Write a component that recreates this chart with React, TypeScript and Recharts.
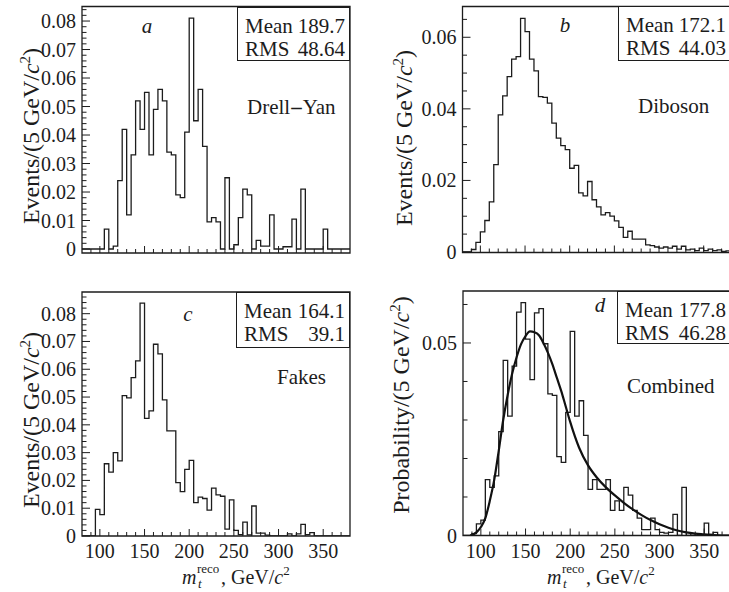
import React from 'react';
import { LineChart, Line, XAxis, YAxis, ReferenceArea } from 'recharts';

const FONT = '"Liberation Serif", "Times New Roman", Times, serif';
const INK = '#1c1c1c';

// low edges of the 5 GeV bins
const binLow = [
  80, 85, 90, 95, 100, 105, 110, 115, 120, 125,
  130, 135, 140, 145, 150, 155, 160, 165, 170, 175,
  180, 185, 190, 195, 200, 205, 210, 215, 220, 225,
  230, 235, 240, 245, 250, 255, 260, 265, 270, 275,
  280, 285, 290, 295, 300, 305, 310, 315, 320, 325,
  330, 335, 340, 345, 350, 355, 360, 365, 370, 375,
];
const xMax = 380;
const xTicks = [
  90, 100, 110, 120, 130, 140, 150, 160, 170, 180, 190, 200, 210, 220,
  230, 240, 250, 260, 270, 280, 290, 300, 310, 320, 330, 340, 350, 360, 370,
];
const xLabelTicks = [100, 150, 200, 250, 300, 350];

const drellYan = [
  0, 0, 0, 0, 0, 0.007, 0, 0.001, 0.024, 0.042,
  0.012, 0.033, 0.052, 0.042, 0.055, 0.033, 0.049, 0.056, 0.052, 0.034,
  0.033, 0.019, 0.018, 0.041, 0.081, 0.045, 0.056, 0.036, 0.0095, 0.011,
  0.0095, 0, 0.025, 0, 0.0015, 0.011, 0.021, 0.019, 0, 0.003,
  0.001, 0.001, 0.012, 0, 0, 0.0008, 0.0008, 0.0105, 0, 0.021,
  0, 0, 0, 0, 0.007, 0, 0, 0, 0, 0,
];

const diboson = [
  0, 0, 0.0007, 0.0027, 0.0056, 0.0088, 0.014, 0.0244, 0.0383, 0.0436,
  0.049, 0.0539, 0.0546, 0.0653, 0.0616, 0.0539, 0.0506, 0.0434, 0.0432, 0.0416,
  0.036, 0.0318, 0.0297, 0.0286, 0.0234, 0.0242, 0.0165, 0.0157, 0.0197, 0.0146,
  0.0126, 0.0104, 0.011, 0.01, 0.0087, 0.0069, 0.0041, 0.0058, 0.0036, 0.0036,
  0.0036, 0.002, 0.0018, 0.0014, 0.0011, 0.0014, 0.0011, 0.0016, 0.0008, 0.0016,
  0.0006, 0.0008, 0.0004, 0.0011, 0.0004, 0.0008, 0.0004, 0.0006, 0.0002, 0.0003,
];

const fakes = [
  0, 0, 0, 0.0096, 0.0077, 0.026, 0.023, 0.03, 0.027, 0.0505,
  0.0497, 0.057, 0.063, 0.0838, 0.0423, 0.045, 0.069, 0.0655, 0.049, 0.0378,
  0.0378, 0.0192, 0.016, 0.024, 0.0272, 0.012, 0.014, 0.0135, 0.0093, 0.0172,
  0.0148, 0.0143, 0.0025, 0.013, 0.002, 0.0005, 0.005, 0.0004, 0.0108, 0.001,
  0.001, 0.0003, 0, 0, 0, 0, 0.0008, 0, 0.0008, 0.0042,
  0.0005, 0.0012, 0, 0, 0, 0, 0, 0, 0, 0,
];

const combined = [
  0, 0, 0.0005, 0.003, 0.004, 0.0145, 0.0125, 0.0155, 0.027, 0.0455,
  0.031, 0.044, 0.058, 0.0605, 0.051, 0.0405, 0.0578, 0.0589, 0.0498, 0.0368,
  0.0364, 0.0205, 0.019, 0.032, 0.053, 0.031, 0.035, 0.026, 0.012, 0.0145,
  0.012, 0.012, 0.0145, 0.0065, 0.009, 0.0065, 0.0125, 0.0105, 0.0065, 0.0045,
  0.0015, 0.0015, 0.0045, 0.0015, 0.0008, 0.0006, 0.0008, 0.0055, 0, 0.0125,
  0, 0.0005, 0, 0, 0.0032, 0.0003, 0.0008, 0, 0, 0,
];

// fitted curve on panel d
const fitX = [
  88, 95, 100, 105, 110, 115, 120, 125, 130, 135, 140, 145, 150, 155, 160, 165,
  170, 175, 180, 185, 190, 195, 200, 210, 220, 230, 240, 250, 260, 270, 280,
  290, 300, 310, 320, 330, 340, 350, 360, 370, 380,
];
const fitY = [
  0, 0.0008, 0.0022, 0.0045, 0.009, 0.0145, 0.022, 0.03, 0.0365, 0.042, 0.0463,
  0.0497, 0.0518, 0.053, 0.0528, 0.052, 0.05, 0.0475, 0.0445, 0.041, 0.0375,
  0.0335, 0.0295, 0.0228, 0.0182, 0.015, 0.0125, 0.0104, 0.0085, 0.0068,
  0.0053, 0.004, 0.0029, 0.002, 0.0013, 0.0008, 0.0005, 0.0003, 0.0001, 0, 0,
];

const panelNames = ['Drell', 'Diboson', 'Fakes', 'Combined'];
const panelLetters = ['a', 'b', 'c', 'd'];
const means = ['189.7', '172.1', '164.1', '177.8'];
const rmsValues = ['48.64', '44.03', '39.1', '46.28'];

const yMajorFine = [0, 0.01, 0.02, 0.03, 0.04, 0.05, 0.06, 0.07, 0.08];
const yMajorB = [0, 0.02, 0.04, 0.06];
const yMajorD = [0, 0.05];

const stepTicks = (step: number, max: number) => {
  const out: number[] = [];
  for (let v = 0; v <= max + 1e-9; v += step) out.push(Math.round(v * 10000) / 10000);
  return out;
};

const toSteps = (vals: number[]) => [
  ...binLow.map((x, i) => ({ x, y: vals[i] })),
  { x: xMax, y: vals[vals.length - 1] },
];
const fitData = fitX.map((x, i) => ({ x, y: fitY[i] }));

const XTick = (props: any) => {
  const { x, y, payload, showLabel } = props;
  const major = xLabelTicks.includes(payload.value);
  return (
    <g>
      <line x1={x} x2={x} y1={y} y2={y - (major ? 7 : 4)} stroke={INK} strokeWidth={1} />
      {showLabel && major && (
        <text x={x} y={y + 22} textAnchor="middle" fontSize={20} fontFamily={FONT} fill={INK}>
          {payload.value}
        </text>
      )}
    </g>
  );
};

const YTick = (props: any) => {
  const { x, y, payload, majors } = props;
  const v = payload.value as number;
  const major = majors.some((m: number) => Math.abs(m - v) < 1e-7);
  return (
    <g>
      <line x1={x} x2={x + (major ? 8 : 4.5)} y1={y} y2={y} stroke={INK} strokeWidth={1} />
      {major && (
        <text x={x - 6} y={y + 7} textAnchor="end" fontSize={20} fontFamily={FONT} fill={INK}>
          {v === 0 ? '0' : v.toFixed(2)}
        </text>
      )}
    </g>
  );
};

interface PanelProps {
  left: number;
  top: number;
  width: number;
  height: number;
  margin: { top: number; right: number; bottom: number; left: number };
  yAxisWidth: number;
  xAxisHeight: number;
  yDomain: [number, number];
  yTicks: number[];
  yMajors: number[];
  hist: number[];
  showXLabels: boolean;
  withFit?: boolean;
}

const Panel: React.FC<PanelProps> = (p) => (
  <div style={{ position: 'absolute', left: p.left, top: p.top }}>
    <LineChart width={p.width} height={p.height} margin={p.margin}>
      <XAxis
        dataKey="x"
        type="number"
        domain={[80, xMax]}
        allowDataOverflow
        ticks={xTicks}
        interval={0}
        height={p.xAxisHeight}
        tickSize={0}
        tickMargin={0}
        axisLine={false}
        tickLine={false}
        tick={(tp: any) => <XTick {...tp} showLabel={p.showXLabels} />}
      />
      <YAxis
        type="number"
        domain={p.yDomain}
        allowDataOverflow
        ticks={p.yTicks}
        interval={0}
        width={p.yAxisWidth}
        tickSize={0}
        tickMargin={0}
        axisLine={false}
        tickLine={false}
        tick={(tp: any) => <YTick {...tp} majors={p.yMajors} />}
      />
      <Line
        data={toSteps(p.hist)}
        dataKey="y"
        type="stepAfter"
        stroke={INK}
        strokeWidth={1.3}
        dot={false}
        activeDot={false}
        isAnimationActive={false}
      />
      {p.withFit && (
        <Line
          data={fitData}
          dataKey="y"
          type="monotone"
          stroke="#111"
          strokeWidth={2.2}
          dot={false}
          activeDot={false}
          isAnimationActive={false}
        />
      )}
      <ReferenceArea
        x1={80}
        x2={xMax}
        y1={p.yDomain[0]}
        y2={p.yDomain[1]}
        fill="none"
        fillOpacity={0}
        stroke={INK}
        strokeWidth={1.3}
        ifOverflow="visible"
      />
    </LineChart>
  </div>
);

const StatsBox = ({ left, top, width, height, mean, rms }: any) => (
  <div
    style={{
      position: 'absolute',
      left,
      top,
      width,
      height,
      boxSizing: 'border-box',
      border: `1.3px solid ${INK}`,
      background: '#fff',
      fontSize: 21,
      color: INK,
    }}
  >
    {[
      ['Mean', mean, 18],
      ['RMS', rms, 41],
    ].map(([k, v, cy]) => (
      <div
        key={k as string}
        style={{
          position: 'absolute',
          left: 7,
          right: 4,
          top: (cy as number) - 12,
          height: 24,
          lineHeight: '24px',
          display: 'flex',
          justifyContent: 'space-between',
        }}
      >
        <span>{k}</span>
        <span>{v}</span>
      </div>
    ))}
  </div>
);

const Label = ({ x, y, children, italic, anchor }: any) => (
  <div
    style={{
      position: 'absolute',
      left: x,
      top: y,
      transform: anchor === 'middle' ? 'translate(-50%, -50%)' : 'translate(0, -50%)',
      fontSize: 21,
      fontStyle: italic ? 'italic' : 'normal',
      whiteSpace: 'nowrap',
      color: INK,
    }}
  >
    {children}
  </div>
);

const YTitle = ({ x, y, word }: any) => (
  <div
    style={{
      position: 'absolute',
      left: x,
      top: y,
      transform: 'translate(-50%, -50%) rotate(-90deg)',
      fontSize: 24,
      whiteSpace: 'nowrap',
      color: INK,
    }}
  >
    {word}/(5 GeV/<i>c</i>
    <sup style={{ fontSize: 15 }}>2</sup>)
  </div>
);

// m_t^reco, GeV/c^2 drawn as svg text so sub/superscripts sit exactly
const XTitle = ({ x }: any) => (
  <svg
    width={130}
    height={36}
    style={{ position: 'absolute', left: x, top: 559, overflow: 'visible' }}
    fontFamily={FONT}
    fill={INK}
  >
    <text x={0} y={25} fontSize={20} fontStyle="italic">m</text>
    <text x={15} y={14} fontSize={13}>reco</text>
    <text x={16} y={29} fontSize={13} fontStyle="italic">t</text>
    <text x={39} y={25} fontSize={20}>
      , GeV/<tspan fontStyle="italic">c</tspan>
      <tspan fontSize={13} dy={-9}>2</tspan>
    </text>
  </svg>
);

export default function App() {
  return (
    <div
      style={{
        position: 'absolute',
        left: 0,
        top: 0,
        width: 729,
        height: 592,
        overflow: 'hidden',
        background: '#fff',
        fontFamily: FONT,
      }}
    >
      <Panel
        left={0}
        top={0}
        width={365}
        height={280}
        margin={{ top: 6.5, right: 15, bottom: 7, left: 32 }}
        yAxisWidth={50}
        xAxisHeight={20}
        yDomain={[-0.0014, 0.0851]}
        yTicks={stepTicks(0.002, 0.084)}
        yMajors={yMajorFine}
        hist={drellYan}
        showXLabels={false}
      />
      <Panel
        left={365}
        top={0}
        width={366}
        height={280}
        margin={{ top: 6.5, right: 0.5, bottom: 7.5, left: 47.5 }}
        yAxisWidth={50}
        xAxisHeight={20}
        yDomain={[-0.00014, 0.0686]}
        yTicks={stepTicks(0.005, 0.065)}
        yMajors={yMajorB}
        hist={diboson}
        showXLabels={false}
      />
      <Panel
        left={0}
        top={280}
        width={365}
        height={312}
        margin={{ top: 12, right: 15, bottom: 26, left: 32 }}
        yAxisWidth={50}
        xAxisHeight={30}
        yDomain={[0, 0.0878]}
        yTicks={stepTicks(0.002, 0.086)}
        yMajors={yMajorFine}
        hist={fakes}
        showXLabels
      />
      <Panel
        left={365}
        top={280}
        width={366}
        height={312}
        margin={{ top: 11, right: 0, bottom: 26.5, left: 48 }}
        yAxisWidth={50}
        xAxisHeight={30}
        yDomain={[0, 0.0635]}
        yTicks={stepTicks(0.01, 0.06)}
        yMajors={yMajorD}
        hist={combined}
        showXLabels
        withFit
      />

      <StatsBox left={237} top={6.5} width={113} height={54} mean={means[0]} rms={rmsValues[0]} />
      <StatsBox left={618} top={6} width={113} height={55} mean={means[1]} rms={rmsValues[1]} />
      <StatsBox left={236} top={292} width={114} height={56} mean={means[2]} rms={rmsValues[2]} />
      <StatsBox left={617} top={291} width={114} height={53} mean={means[3]} rms={rmsValues[3]} />

      <Label x={147} y={26} italic anchor="middle">{panelLetters[0]}</Label>
      <Label x={565} y={25} italic anchor="middle">{panelLetters[1]}</Label>
      <Label x={188} y={314} italic anchor="middle">{panelLetters[2]}</Label>
      <Label x={600} y={305} italic anchor="middle">{panelLetters[3]}</Label>

      <Label x={247} y={107}>
        {panelNames[0]}
        <b style={{ margin: '0 1px' }}>{'\u2013'}</b>Yan
      </Label>
      <Label x={638} y={106}>{panelNames[1]}</Label>
      <Label x={277} y={377}>{panelNames[2]}</Label>
      <Label x={627} y={386}>{panelNames[3]}</Label>

      <YTitle x={31} y={136} word="Events" />
      <YTitle x={404} y={138} word="Events" />
      <YTitle x={31} y={420} word="Events" />
      <YTitle x={401} y={405} word="Probability" />

      <XTitle x={182} />
      <XTitle x={547} />
    </div>
  );
}
